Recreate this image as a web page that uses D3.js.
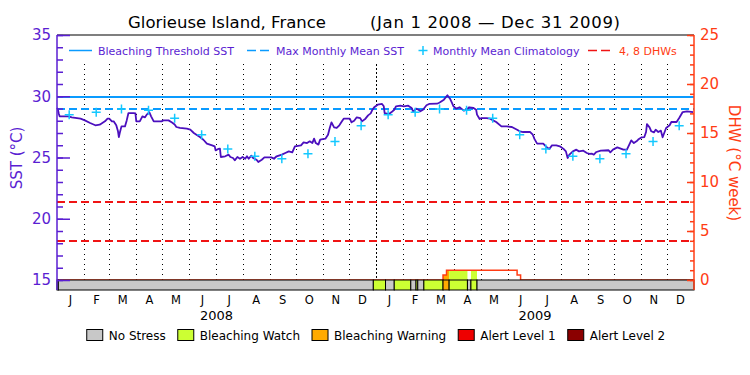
<!DOCTYPE html>
<html>
<head>
<meta charset="utf-8">
<script src="https://cdn.jsdelivr.net/npm/d3@7"></script>
<style>
  body { margin: 0; background: #fff; }
  svg { display: block; font-family: "DejaVu Sans", sans-serif; }
</style>
</head>
<body>
<svg id="chart" width="750" height="375"></svg>
<script>
// ---- data ----
const startDate = new Date(Date.UTC(2008, 0, 1));
const endDate = new Date(Date.UTC(2010, 0, 1));

// SST, days counted from Jan 1 2008
const sstDays = [0, 1, 2, 3, 13, 17, 27, 32, 38, 44, 49, 55, 58, 60, 63, 65, 68, 70, 71, 72,
  74, 78, 80, 82, 88, 90, 91, 95, 98, 101, 103, 106, 108, 111, 120, 122, 128, 132, 135, 137,
  141, 149, 153, 157, 160, 164, 168, 172, 178, 181, 182, 185, 187, 188, 193, 197, 199, 202, 204, 207,
  210, 213, 216, 218, 220, 223, 225, 229, 231, 235, 238, 246, 249, 252, 258, 262, 266, 270, 273, 280,
  283, 287, 290, 293, 295, 297, 300, 302, 308, 311, 313, 315, 318, 321, 324, 327, 329, 336, 338, 341,
  344, 348, 350, 354, 357, 360, 362, 364, 368, 373, 375, 376, 381, 384, 387, 389, 394, 398, 403, 407,
  409, 412, 415, 417, 420, 424, 427, 436, 438, 440, 444, 448, 451, 453, 455, 458, 462, 464, 467, 470,
  473, 478, 481, 482, 485, 487, 493, 497, 501, 504, 510, 516, 522, 528, 531, 535, 543, 546, 548, 551,
  558, 562, 565, 568, 573, 577, 581, 584, 586, 588, 592, 596, 599, 604, 608, 611, 614, 616, 619, 624,
  633, 635, 638, 643, 650, 654, 657, 659, 662, 665, 667, 671, 674, 676, 677, 680, 682, 685, 687, 690,
  693, 695, 699, 703, 705, 711, 714, 718, 723, 730];
const sstValues = [29.04, 28.95, 28.6, 28.36, 28.36, 28.28, 28.17, 28.03, 27.82, 27.63, 27.68, 27.95, 28.17, 28.17, 27.95, 27.95, 27.63, 27.14, 26.67, 27.0,
  27.54, 27.54, 28.03, 28.63, 28.63, 28.6, 27.95, 27.95, 28.36, 28.28, 28.5, 28.69, 28.36, 27.95, 27.95, 28.03, 28.03, 27.86, 27.7, 27.49,
  27.41, 27.35, 27.27, 27.0, 26.86, 26.67, 26.45, 26.13, 25.99, 25.91, 25.58, 25.7, 25.72, 25.04, 25.1, 25.23, 25.04, 24.96, 24.77, 25.04,
  24.9, 25.04, 24.9, 25.1, 24.9, 25.15, 24.96, 24.82, 24.63, 24.82, 25.01, 25.01, 24.9, 25.1, 25.23, 25.37, 25.5, 25.42, 25.91, 25.99,
  26.24, 26.18, 26.32, 26.18, 26.54, 26.18, 26.05, 26.46, 26.54, 26.86, 27.41, 27.87, 27.46, 27.41, 27.63, 27.95, 28.17, 28.17, 27.87, 28.0,
  28.28, 28.22, 27.95, 28.17, 28.44, 28.6, 28.9, 29.1, 29.31, 29.37, 29.18, 28.63, 28.55, 28.71, 28.9, 29.18, 29.23, 29.18, 29.23, 29.04,
  28.71, 28.99, 28.9, 28.77, 28.9, 29.26, 29.37, 29.39, 29.45, 29.53, 29.72, 30.08, 29.8, 29.5, 29.18, 28.99, 29.1, 28.99, 28.82, 28.9,
  29.1, 29.04, 28.9, 28.5, 28.14, 28.22, 28.22, 28.17, 28.01, 27.9, 27.54, 27.54, 27.49, 27.27, 27.14, 27.08, 27.08, 26.86, 26.5, 26.13,
  26.13, 25.83, 25.69, 25.99, 25.99, 25.91, 25.72, 25.5, 24.96, 25.23, 25.5, 25.64, 25.5, 25.56, 25.37, 25.29, 25.31, 25.23, 25.45, 25.56,
  25.59, 25.42, 25.64, 25.83, 25.64, 25.64, 26.1, 26.4, 26.18, 26.32, 26.46, 26.65, 26.67, 27.08, 27.73, 27.46, 27.14, 27.05, 27.27, 27.08,
  27.19, 26.65, 27.41, 27.63, 27.9, 27.9, 28.22, 28.71, 28.77, 28.71];

// monthly mean climatology (Jan..Dec), repeated for both years
const climValues = [28.5, 28.7, 28.95, 28.85, 28.2, 26.85, 25.7, 25.1, 24.9, 25.3, 26.3, 27.6];
const climYears = [2008, 2009];

const mmm = 28.96;            // max monthly mean
const threshold = mmm + 1;    // bleaching threshold
const dhwLevels = [4, 8];

// degree heating weeks, step values
const dhwDays = [0, 443, 447, 528, 532, 731];
const dhwValues = [0, 0.5, 1.0, 0.5, 0, 0];

// stress level runs (0 none, 1 watch, 2 warning, 3 alert 1, 4 alert 2)
const stressStart = [0, 1.5, 363, 377, 387, 406, 412, 414, 421, 443, 450, 471, 475, 482];
const stressEnd = [1.5, 363, 377, 387, 406, 412, 414, 421, 443, 450, 471, 475, 482, 731];
const stressLevel = [1, 0, 1, 0, 1, 0, 1, 0, 1, 2, 1, 0, 1, 0];

const monthLabels = ['J', 'F', 'M', 'A', 'M', 'J', 'J', 'A', 'S', 'O', 'N', 'D'];
const yearLabels = ['2008', '2009'];
const stressNames = ['No Stress', 'Bleaching Watch', 'Bleaching Warning', 'Alert Level 1', 'Alert Level 2'];
const stressColors = ['#c8c8c8', '#ccff33', '#ffaa00', '#ee0000', '#8b0000'];

// ---- drawing ----
const purple = '#5a1ed2';
const sstColor = '#4b0fbe';
const orange = '#ff3c14';
const blue = '#0a9bff';
const cyan = '#14c8ff';
const red = '#f01414';

const pLeft = 57, pRight = 694, pTop = 35, barTop = 280, pBottom = 290;

const svg = d3.select('#chart');
svg.append('rect').attr('width', 750).attr('height', 375).attr('fill', '#fff');

const toDate = d => new Date(startDate.getTime() + d * 864e5);

let x = d3.scaleUtc().domain([startDate, endDate]).range([pLeft, pRight]);
let ySST = d3.scaleLinear().domain([15, 35]).range([barTop, pTop]);
let yDHW = d3.scaleLinear().domain([0, 25]).range([barTop, pTop]);

// month dividers
let months = d3.utcMonth.range(d3.utcMonth.offset(startDate, 1), endDate);
svg.append('g').selectAll('line')
  .data(months)
  .enter().append('line')
    .attr('x1', d => Math.round(x(d)) + 0.5)
    .attr('x2', d => Math.round(x(d)) + 0.5)
    .attr('y1', 64)
    .attr('y2', barTop)
    .attr('stroke', '#000')
    .attr('stroke-width', 1)
    .attr('stroke-dasharray', d => d.getUTCMonth() === 0 ? '2,2' : '1,4');

// reference lines
svg.append('line')
  .attr('x1', pLeft).attr('x2', pRight)
  .attr('y1', Math.round(ySST(threshold))).attr('y2', Math.round(ySST(threshold)))
  .attr('stroke', blue).attr('stroke-width', 2);
svg.append('line')
  .attr('x1', pLeft).attr('x2', pRight)
  .attr('y1', Math.round(ySST(mmm))).attr('y2', Math.round(ySST(mmm)))
  .attr('stroke', blue).attr('stroke-width', 2)
  .attr('stroke-dasharray', '8,4');
svg.append('g').selectAll('line')
  .data(dhwLevels)
  .enter().append('line')
    .attr('x1', pLeft).attr('x2', pRight)
    .attr('y1', d => Math.round(yDHW(d))).attr('y2', d => Math.round(yDHW(d)))
    .attr('stroke', red).attr('stroke-width', 2)
    .attr('stroke-dasharray', '8,4');

// SST line
let sst = sstDays.map((d, i) => ({ day: d, value: sstValues[i] }));
let sstLine = d3.line()
  .x(d => x(toDate(d.day)))
  .y(d => ySST(d.value));
svg.append('path')
  .datum(sst)
  .attr('d', sstLine)
  .attr('fill', 'none')
  .attr('stroke', sstColor)
  .attr('stroke-width', 1.8)
  .attr('stroke-linejoin', 'round');

// climatology crosses
let clim = [];
climYears.forEach(yr => climValues.forEach((v, m) => clim.push({ date: new Date(Date.UTC(yr, m, 15)), value: v })));
let cross = (cx, cy, r) => `M${cx - r},${cy}H${cx + r}M${cx},${cy - r}V${cy + r}`;
svg.append('path')
  .attr('d', clim.map(d => cross(x(d.date), ySST(d.value), 4.5)).join(''))
  .attr('fill', 'none')
  .attr('stroke', cyan)
  .attr('stroke-width', 1.5);

// DHW fill coloured by stress level, then the step line
let dhwAt = t => {
  let v = 0;
  dhwDays.forEach((d, i) => { if (d <= t) v = dhwValues[i]; });
  return v;
};
let dhwArea = d3.area()
  .curve(d3.curveStepAfter)
  .x(d => x(toDate(d[0])))
  .y0(yDHW(0))
  .y1(d => yDHW(d[1]));
stressStart.forEach((s, i) => {
  if (stressLevel[i] === 0) return;
  let e = stressEnd[i];
  let pts = [[s, dhwAt(s)]];
  dhwDays.forEach(d => { if (d > s && d < e) pts.push([d, dhwAt(d)]); });
  pts.push([e, pts[pts.length - 1][1]]);
  svg.append('path')
    .datum(pts)
    .attr('d', dhwArea)
    .attr('fill', stressColors[stressLevel[i]]);
});
let dhw = dhwDays.map((d, i) => [d, dhwValues[i]]);
svg.append('path')
  .datum(dhw)
  .attr('d', d3.line().curve(d3.curveStepAfter).x(d => x(toDate(d[0]))).y(d => yDHW(d[1])))
  .attr('fill', 'none')
  .attr('stroke', orange)
  .attr('stroke-width', 1.5);

// stress bar
svg.append('g').selectAll('rect')
  .data(stressStart.map((s, i) => ({ s, e: stressEnd[i], level: stressLevel[i] })))
  .enter().append('rect')
    .attr('x', d => x(toDate(d.s)))
    .attr('width', d => x(toDate(d.e)) - x(toDate(d.s)))
    .attr('y', barTop)
    .attr('height', pBottom - barTop)
    .attr('fill', d => stressColors[d.level])
    .attr('stroke', '#000')
    .attr('stroke-width', 1);

// frame
svg.append('line').attr('x1', pLeft).attr('x2', pRight).attr('y1', pTop).attr('y2', pTop)
  .attr('stroke', '#000').attr('stroke-width', 1.2);

// left axis (SST)
let leftMinor = d3.axisLeft(ySST).tickValues(d3.range(15, 36, 1)).tickSizeInner(-6).tickSizeOuter(0).tickFormat('');
let leftMajor = d3.axisLeft(ySST).tickValues(d3.range(15, 36, 5)).tickSizeInner(-13).tickSizeOuter(0).tickPadding(6);
[leftMinor, leftMajor].forEach(ax => {
  let g = svg.append('g').attr('transform', `translate(${pLeft},0)`).call(ax);
  g.select('.domain').remove();
  g.selectAll('line').attr('stroke', purple).attr('stroke-width', 1.5);
  g.selectAll('text').attr('fill', purple).attr('font-size', 15).attr('font-family', '"DejaVu Sans", sans-serif');
});
svg.append('line').attr('x1', pLeft).attr('x2', pLeft).attr('y1', pTop).attr('y2', pBottom)
  .attr('stroke', purple).attr('stroke-width', 1.5);

// right axis (DHW)
let rightMinor = d3.axisRight(yDHW).tickValues(d3.range(0, 26, 1)).tickSizeInner(-4).tickSizeOuter(0).tickFormat('');
let rightMajor = d3.axisRight(yDHW).tickValues(d3.range(0, 26, 5)).tickSizeInner(-7).tickSizeOuter(0).tickPadding(6);
[rightMinor, rightMajor].forEach(ax => {
  let g = svg.append('g').attr('transform', `translate(${pRight},0)`).call(ax);
  g.select('.domain').remove();
  g.selectAll('line').attr('stroke', orange).attr('stroke-width', 1.5);
  g.selectAll('text').attr('fill', orange).attr('font-size', 15).attr('font-family', '"DejaVu Sans", sans-serif');
});
svg.append('line').attr('x1', pRight).attr('x2', pRight).attr('y1', pTop).attr('y2', pBottom)
  .attr('stroke', orange).attr('stroke-width', 1.5);

// axis titles
svg.append('text')
  .attr('transform', 'translate(22,158) rotate(-90)')
  .attr('text-anchor', 'middle')
  .attr('fill', purple)
  .attr('font-size', 15)
  .text('SST (°C)');
svg.append('text')
  .attr('transform', 'translate(729,163) rotate(90)')
  .attr('text-anchor', 'middle')
  .attr('fill', orange)
  .attr('font-size', 15)
  .text('DHW (°C week)');

// month and year labels
let monthStarts = d3.utcMonth.range(startDate, endDate);
svg.append('g').selectAll('text')
  .data(monthStarts)
  .enter().append('text')
    .attr('x', d => (x(d) + x(d3.utcMonth.offset(d, 1))) / 2)
    .attr('y', 304)
    .attr('text-anchor', 'middle')
    .attr('font-size', 11.5)
    .attr('fill', '#000')
    .text(d => monthLabels[d.getUTCMonth()]);
svg.append('g').selectAll('text')
  .data(yearLabels)
  .enter().append('text')
    .attr('x', d => (x(new Date(Date.UTC(+d, 0, 1))) + x(new Date(Date.UTC(+d + 1, 0, 1)))) / 2)
    .attr('y', 320)
    .attr('text-anchor', 'middle')
    .attr('font-size', 13)
    .attr('fill', '#000')
    .text(d => d);

// title
svg.append('text').attr('x', 128).attr('y', 28).attr('font-size', 16.5).attr('fill', '#000')
  .attr('textLength', 198).attr('lengthAdjust', 'spacing')
  .text('Glorieuse Island, France');
svg.append('text').attr('x', 370).attr('y', 28).attr('font-size', 16.5).attr('fill', '#000')
  .attr('textLength', 250).attr('lengthAdjust', 'spacing')
  .text('(Jan 1 2008 \u2014 Dec 31 2009)');

// legend inside the plot
let ly = 50.5;
let legend = svg.append('g').attr('font-size', 11);
legend.append('line').attr('x1', 69).attr('x2', 92).attr('y1', ly).attr('y2', ly)
  .attr('stroke', blue).attr('stroke-width', 1.5);
legend.append('text').attr('x', 98).attr('y', ly + 4).attr('fill', purple).text('Bleaching Threshold SST');
legend.append('line').attr('x1', 247).attr('x2', 270).attr('y1', ly).attr('y2', ly)
  .attr('stroke', blue).attr('stroke-width', 1.5).attr('stroke-dasharray', '9,4');
legend.append('text').attr('x', 276).attr('y', ly + 4).attr('fill', purple).text('Max Monthly Mean SST');
legend.append('path').attr('d', cross(423, ly, 4.5)).attr('stroke', cyan).attr('stroke-width', 1.5);
legend.append('text').attr('x', 433).attr('y', ly + 4).attr('fill', purple).text('Monthly Mean Climatology');
legend.append('line').attr('x1', 588).attr('x2', 610).attr('y1', ly).attr('y2', ly)
  .attr('stroke', red).attr('stroke-width', 1.5).attr('stroke-dasharray', '9,4');
legend.append('text').attr('x', 619).attr('y', ly + 4).attr('fill', orange).text('4, 8 DHWs');

// stress legend below
let sl = svg.append('g').attr('font-size', 12);
let items = sl.selectAll('g').data(stressNames).enter().append('g');
items.append('rect')
  .attr('width', 16).attr('height', 11).attr('y', 329.5)
  .attr('fill', (d, i) => stressColors[i])
  .attr('stroke', '#000').attr('stroke-width', 1);
items.append('text')
  .attr('x', 22).attr('y', 340)
  .attr('fill', '#000')
  .text(d => d);
let cx = 0;
items.each(function () {
  let w = d3.select(this).select('text').node().getComputedTextLength();
  d3.select(this).attr('data-x', cx);
  cx += 22 + w + 12;
});
let total = cx - 12;
let x0 = 376 - total / 2;
items.attr('transform', function () { return `translate(${x0 + (+this.getAttribute('data-x'))},0)`; });
</script>
</body>
</html>
